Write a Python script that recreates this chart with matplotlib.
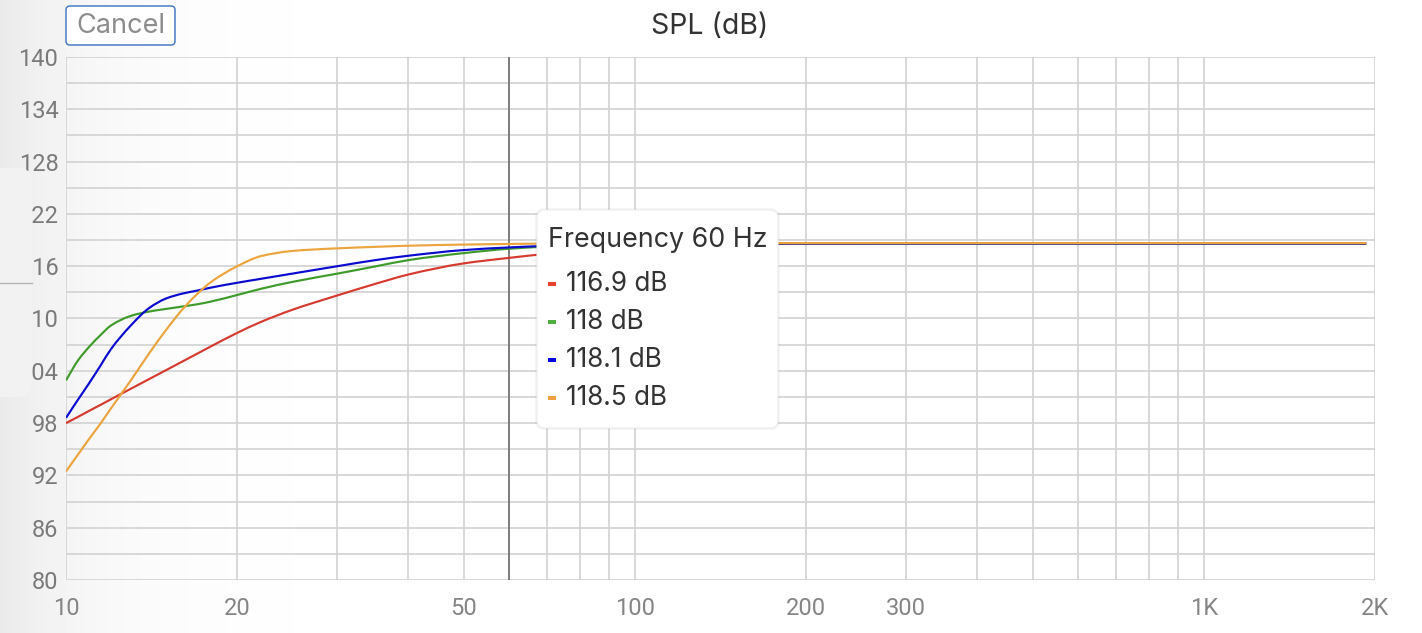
import matplotlib
matplotlib.use("Agg")
import matplotlib.pyplot as plt
import matplotlib.patches as patches
from matplotlib.path import Path
from matplotlib.transforms import IdentityTransform
from matplotlib.ticker import FixedLocator, NullFormatter
import numpy as np

W, H = 1422, 633

# ── data ───────────────────────────────────────────────────────────────
FREQ = [10, 10.5, 11, 11.5, 12, 13, 14, 15, 16, 17, 18, 20, 22, 25, 30, 35,
        40, 50, 60, 70, 80, 100, 150, 200, 500, 1000, 1930]

SPL_RED = [98.0, 98.72, 99.43, 100.09, 100.74, 101.94, 103.05, 104.08, 105.05,
           105.96, 106.82, 108.35, 109.6, 111.0, 112.65, 113.98, 115.05,
           116.32, 116.95, 117.42, 117.75, 118.15, 118.45, 118.58, 118.6,
           118.6, 118.6]
SPL_GREEN = [102.9, 105.2, 106.8, 108.1, 109.2, 110.3, 110.8, 111.1, 111.37,
             111.63, 111.95, 112.7, 113.4, 114.2, 115.15, 115.98, 116.7,
             117.5, 118.0, 118.25, 118.4, 118.52, 118.6, 118.6, 118.6, 118.6,
             118.6]
SPL_BLUE = [98.6, 100.7, 102.65, 104.6, 106.5, 109.2, 111.2, 112.3, 112.85,
            113.2, 113.55, 114.1, 114.55, 115.15, 116.0, 116.7, 117.2, 117.85,
            118.15, 118.33, 118.43, 118.55, 118.6, 118.6, 118.6, 118.6, 118.6]
SPL_ORANGE = [92.45, 94.4, 96.25, 97.95, 99.7, 102.9, 106.0, 108.7, 111.0,
              112.8, 114.2, 116.0, 117.15, 117.75, 118.05, 118.22, 118.35,
              118.48, 118.55, 118.6, 118.62, 118.65, 118.65, 118.65, 118.65,
              118.65, 118.65]

SERIES_COLORS = ["#d63a2f", "#3f9a2c", "#0a0ad0", "#eba43e"]
MARKER_COLORS = ["#e8412e", "#4caf3f", "#0000dd", "#f0a040"]

CURSOR_FREQ = 60
TOOLTIP_TITLE = "Frequency 60 Hz"
TOOLTIP_VALUES = ["116.9 dB", "118 dB", "118.1 dB", "118.5 dB"]

X_GRID = [10, 20, 30, 40, 50, 60, 70, 80, 90, 100, 200, 300, 400, 500, 600,
          700, 800, 900, 1000, 2000]
X_LABEL_POS = [10, 20, 50, 100, 200, 300, 1000, 2000]
X_LABELS = ["10", "20", "50", "100", "200", "300", "1K", "2K"]
Y_GRID = list(range(80, 141, 3))
Y_LABEL_POS = list(range(80, 141, 6))
Y_LABELS = [str(v) for v in Y_LABEL_POS]

plt.rcParams["font.family"] = ["Inter", "DejaVu Sans"]
TICK_FONT = ["Roboto", "DejaVu Sans"]


def px(x, y):
    """Screenshot pixel (top-left origin) -> display coords."""
    return x, H - y


def rounded_box(fig, x0, y0, x1, y1, r, **kw):
    bx, by = px(x0, y1)
    p = patches.FancyBboxPatch((bx, by), x1 - x0, y1 - y0,
                               boxstyle=f"round,pad=0,rounding_size={r}",
                               transform=IdentityTransform(), **kw)
    fig.add_artist(p)
    return p


def smooth_path(freq, vals):
    """Monotone cubic Bezier through the points, built in log-frequency space."""
    u = np.log10(freq)
    v = np.asarray(vals, float)
    h = np.diff(u)
    d = np.diff(v) / h
    m = np.zeros_like(v)
    m[0], m[-1] = d[0], d[-1]
    for i in range(1, len(v) - 1):
        if d[i - 1] * d[i] <= 0:
            m[i] = 0.0
        else:
            w1, w2 = 2 * h[i] + h[i - 1], h[i] + 2 * h[i - 1]
            m[i] = (w1 + w2) / (w1 / d[i - 1] + w2 / d[i])
    verts = [(freq[0], v[0])]
    codes = [Path.MOVETO]
    for i in range(len(v) - 1):
        c1 = (u[i] + h[i] / 3, v[i] + m[i] * h[i] / 3)
        c2 = (u[i + 1] - h[i] / 3, v[i + 1] - m[i + 1] * h[i] / 3)
        verts += [(10 ** c1[0], c1[1]), (10 ** c2[0], c2[1]), (freq[i + 1], v[i + 1])]
        codes += [Path.CURVE4] * 3
    return Path(verts, codes)


fig = plt.figure(figsize=(W / 100, H / 100), dpi=100)
fig.patch.set_facecolor("white")

# left-side grey wash behind the chart
bg = fig.add_axes([0, 0, 1, 1], zorder=-10)
xx = np.linspace(0, W, W)
shade = 1 - 0.085 * np.exp(-xx / 95.0)
bg.imshow(np.tile(shade, (10, 1)), cmap="gray", vmin=0, vmax=1,
          aspect="auto", extent=[0, 1, 0, 1])
bg.axis("off")

ax = fig.add_axes([66 / W, (H - 580) / H, (1375 - 66) / W, (580 - 57) / H],
                  zorder=0)
ax.set_facecolor("none")
ax.set_xscale("log")
ax.set_xlim(10, 2000)
ax.set_ylim(80, 140)

for f in X_GRID:
    ax.axvline(f, color="#d2d2d2", lw=1.2, zorder=1)
for v in Y_GRID:
    ax.axhline(v, color="#d2d2d2", lw=1.2, zorder=1)
ax.axvline(CURSOR_FREQ, color="#666666", lw=1.1, zorder=2)

for vals, c in zip([SPL_RED, SPL_GREEN, SPL_BLUE, SPL_ORANGE], SERIES_COLORS):
    ax.add_patch(patches.PathPatch(smooth_path(FREQ, vals), fc="none", ec=c,
                                   lw=1.55, zorder=3, capstyle="butt"))

for s in ax.spines.values():
    s.set_visible(False)

ax.xaxis.set_major_locator(FixedLocator(X_LABEL_POS))
ax.xaxis.set_minor_locator(FixedLocator([]))
ax.xaxis.set_minor_formatter(NullFormatter())
ax.set_xticklabels(X_LABELS, family=TICK_FONT)
ax.set_yticks(Y_LABEL_POS)
ax.set_yticklabels(Y_LABELS, family=TICK_FONT)
ax.tick_params(axis="x", length=0, pad=12, labelsize=17, labelcolor="#858585")
ax.tick_params(axis="y", length=0, pad=5.5, labelsize=17, labelcolor="#7a7a7a")

# rounded side panel that hides the hundreds digit of some labels
rounded_box(fig, -20, 168, 32, 397, 14, fc="#f2f2f2", ec="none", zorder=5)
fig.add_artist(plt.Line2D([0, 32], [H - 283, H - 283], color="#b5b5b5",
                          lw=1, transform=IdentityTransform(), zorder=6))

# title and cancel button
fig.text(*px(710, 26), "SPL (dB)", transform=IdentityTransform(),
         ha="center", va="center", fontsize=20.5, color="#333333")
rounded_box(fig, 66, 6, 175, 45, 4, fc="white", ec="#4a7cc4", lw=1.1,
            zorder=5)
fig.text(*px(120.5, 26), "Cancel", transform=IdentityTransform(),
         ha="center", va="center", fontsize=19.5, color="#8c8c8c", zorder=6)

# tooltip
rounded_box(fig, 535, 208, 780, 430, 9, fc="#000000", alpha=0.04, ec="none",
            zorder=6)
rounded_box(fig, 537, 210, 778, 428, 8, fc="white", ec="#ececec", lw=0.8,
            zorder=7)
fig.text(*px(548, 240), TOOLTIP_TITLE, transform=IdentityTransform(),
         ha="left", va="center", fontsize=19.3, color="#333333", zorder=8)
for i, (txt, mc) in enumerate(zip(TOOLTIP_VALUES, MARKER_COLORS)):
    yc = 284 + i * 38
    fig.add_artist(patches.Rectangle(px(548, yc + 2), 8, 4, fc=mc, ec="none",
                                     transform=IdentityTransform(), zorder=8))
    fig.text(*px(566, yc), txt, transform=IdentityTransform(),
             ha="left", va="center", fontsize=18.8, color="#333333", zorder=8)

fig.savefig("out.png", dpi=100, facecolor="white")
